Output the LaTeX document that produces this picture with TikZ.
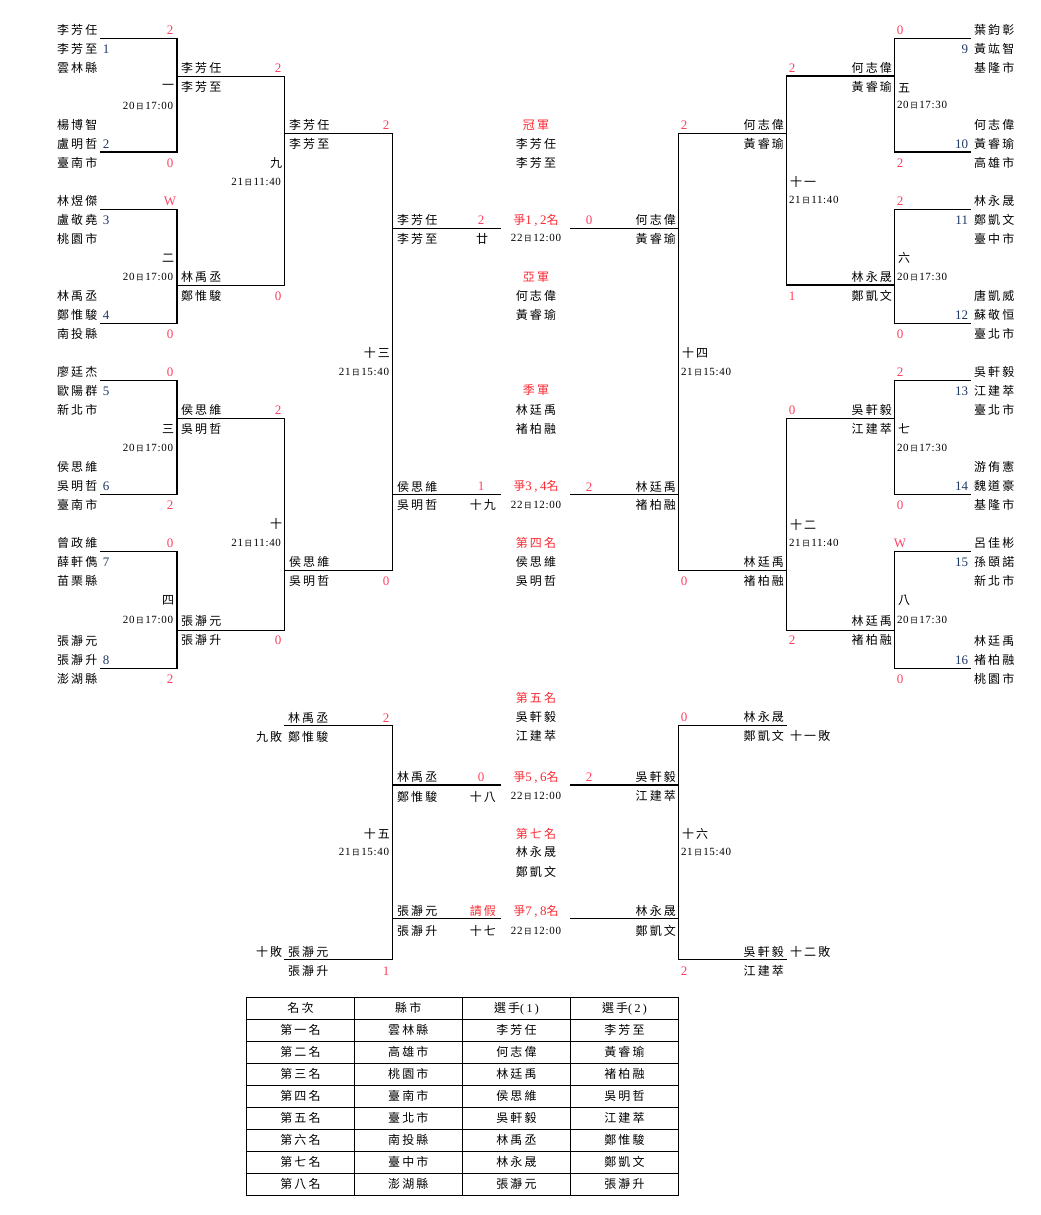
\documentclass[tikz,border=0pt]{standalone}
\usepackage{fontspec}
\setmainfont{Liberation Serif}
\newfontfamily\cjs[LetterSpace=18]{Noto Sans CJK TC}
\newfontfamily\cjn{Noto Sans CJK TC}
\newfontfamily\srd[LetterSpace=6]{Liberation Serif}
\newfontfamily\srs[LetterSpace=20]{Liberation Serif}
\definecolor{scr}{RGB}{255,64,96}
\definecolor{ttl}{RGB}{250,40,50}
\definecolor{sdb}{RGB}{31,56,100}
\newcounter{tn}
\newcommand\TX[4]{\stepcounter{tn}\node[#1] (t\arabic{tn}) at (#2,#3) {#4};}
\newcommand\DT[2]{{\srd #1}{\cjn\fontsize{8}{8}\selectfont\,日\,}{\srd #2}}
\newcommand\ZM[1]{爭{\srs\fontsize{13}{13}\selectfont #1}名}
\newcommand\BK[5]{\coordinate (#1a) at (#2,#4); \coordinate (#1b) at (#3,#4); \coordinate (#1c) at (#3,#5); \coordinate (#1d) at (#2,#5); \draw[bl] (#1a) -- (#1b) -- (#1c) -- (#1d);}
\newcommand\HL[4]{\coordinate (#1a) at (#2,#4); \coordinate (#1b) at (#3,#4); \draw[bl] (#1a) -- (#1b);}
\begin{document}
\begin{tikzpicture}[x=1pt,y=-1pt,
  bl/.style={line width=1.25pt,black},
  tl/.style={line width=0.9pt,black},
  base/.style={inner sep=0pt,outer sep=0pt},
  nw/.style={base,anchor=west,font=\cjs\fontsize{12}{14}\selectfont},
  ne/.style={base,anchor=east,font=\cjs\fontsize{12}{14}\selectfont},
  nc/.style={base,anchor=center,font=\cjs\fontsize{12}{14}\selectfont},
  tt/.style={nc,text=ttl},
  tte/.style={ne,text=ttl},
  sc/.style={base,anchor=center,text=scr,font=\rmfamily\fontsize{13}{13}\selectfont},
  sd/.style={base,anchor=center,text=sdb,font=\rmfamily\fontsize{13}{13}\selectfont},
  sde/.style={sd,anchor=east},
  dte/.style={base,anchor=east,font=\fontsize{11}{11}\selectfont},
  dtw/.style={base,anchor=west,font=\fontsize{11}{11}\selectfont},
  dtc/.style={base,anchor=center,font=\fontsize{11}{11}\selectfont}]
\useasboundingbox (0,0) rectangle (1041,1215);

% ---------------- bracket lines ----------------
\BK{m1}{100}{177}{38.3}{152}
\BK{m2}{100}{177}{209.3}{323.3}
\BK{m3}{100}{177}{380.3}{494.3}
\BK{m4}{100}{177}{551.5}{668.3}
\BK{m9}{177}{284.3}{76.2}{285.2}
\BK{m10}{177}{284.3}{418.3}{630.3}
\BK{m13}{284.3}{392.3}{133.3}{570.7}
\HL{s1}{392.3}{501}{228.3}
\HL{s2}{392.3}{501}{494.3}
\HL{s3}{570}{678.3}{228.3}
\HL{s4}{570}{678.3}{494.3}
\BK{m14}{786.7}{678.3}{133.3}{570.7}
\BK{m11}{894.3}{786.7}{76}{285}
\BK{m12}{894.3}{786.7}{418.3}{630.3}
\BK{m5}{970.7}{894.3}{38.3}{152}
\BK{m6}{970.7}{894.3}{209.3}{323.3}
\BK{m7}{970.7}{894.3}{380.3}{494.3}
\BK{m8}{970.7}{894.3}{551.7}{668.3}
\BK{m15}{284.3}{392.3}{725.3}{959.3}
\HL{s5}{392.3}{500.7}{785}
\HL{s6}{392.3}{500.7}{918.3}
\HL{s7}{570}{678.3}{785}
\HL{s8}{570}{678.3}{918.3}
\BK{m16}{786.7}{678.3}{725.3}{959.3}

% ---------------- left first round ----------------
\TX{nw}{57}{30}{李芳任}
\TX{nw}{57}{49}{李芳至}
\TX{nw}{57}{68}{雲林縣}
\TX{nw}{57}{125}{楊博智}
\TX{nw}{57}{144}{盧明哲}
\TX{nw}{57}{163}{臺南市}
\TX{nw}{57}{201}{林煜傑}
\TX{nw}{57}{220}{盧敬堯}
\TX{nw}{57}{239}{桃園市}
\TX{nw}{57}{296}{林禹丞}
\TX{nw}{57}{315}{鄭惟駿}
\TX{nw}{57}{334}{南投縣}
\TX{nw}{57}{372}{廖廷杰}
\TX{nw}{57}{391}{歐陽群}
\TX{nw}{57}{410}{新北市}
\TX{nw}{57}{467}{侯思維}
\TX{nw}{57}{486}{吳明哲}
\TX{nw}{57}{505}{臺南市}
\TX{nw}{57}{543}{曾政維}
\TX{nw}{57}{562}{薛軒儁}
\TX{nw}{57}{581}{苗栗縣}
\TX{nw}{57}{641}{張瀞元}
\TX{nw}{57}{660}{張瀞升}
\TX{nw}{57}{679}{澎湖縣}
\TX{sd}{106}{49}{1}
\TX{sd}{106}{144}{2}
\TX{sd}{106}{220}{3}
\TX{sd}{106}{315}{4}
\TX{sd}{106}{391}{5}
\TX{sd}{106}{486}{6}
\TX{sd}{106}{562}{7}
\TX{sd}{106}{660}{8}
\TX{sc}{170}{30}{2}
\TX{sc}{170}{163}{0}
\TX{sc}{170}{201}{W}
\TX{sc}{170}{334}{0}
\TX{sc}{170}{372}{0}
\TX{sc}{170}{505}{2}
\TX{sc}{170}{543}{0}
\TX{sc}{170}{679}{2}
\TX{ne}{174}{87}{一}
\TX{dte}{173}{106}{\DT{20}{17:00}}
\TX{ne}{174}{258}{二}
\TX{dte}{173}{277}{\DT{20}{17:00}}
\TX{ne}{174}{429}{三}
\TX{dte}{173}{448}{\DT{20}{17:00}}
\TX{ne}{174}{600}{四}
\TX{dte}{173}{620}{\DT{20}{17:00}}

% ---------------- left round 2 ----------------
\TX{nw}{181}{68}{李芳任}
\TX{nw}{181}{87}{李芳至}
\TX{nw}{181}{277}{林禹丞}
\TX{nw}{181}{296}{鄭惟駿}
\TX{nw}{181}{410}{侯思維}
\TX{nw}{181}{429}{吳明哲}
\TX{nw}{181}{620.7}{張瀞元}
\TX{nw}{181}{640}{張瀞升}
\TX{sc}{278}{68}{2}
\TX{sc}{278}{296}{0}
\TX{sc}{278}{410}{2}
\TX{sc}{278}{640}{0}
\TX{ne}{282}{163}{九}
\TX{dte}{281}{182}{\DT{21}{11:40}}
\TX{ne}{282}{524}{十}
\TX{dte}{281}{543}{\DT{21}{11:40}}

% ---------------- left round 3 ----------------
\TX{nw}{289}{125}{李芳任}
\TX{nw}{289}{144}{李芳至}
\TX{nw}{289}{562}{侯思維}
\TX{nw}{289}{581}{吳明哲}
\TX{sc}{386}{125}{2}
\TX{sc}{386}{581}{0}
\TX{ne}{390}{353}{十三}
\TX{dte}{389}{372}{\DT{21}{15:40}}

% ---------------- left semis ----------------
\TX{nw}{397}{220}{李芳任}
\TX{nw}{397}{239}{李芳至}
\TX{nw}{397}{486.7}{侯思維}
\TX{nw}{397}{505}{吳明哲}
\TX{sc}{481}{220}{2}
\TX{sc}{481}{486.7}{1}
\TX{nc}{482}{239}{廿}
\TX{ne}{496}{505}{十九}

% ---------------- centre ----------------
\TX{tt}{536}{125}{冠軍}
\TX{nc}{536}{144}{李芳任}
\TX{nc}{536}{163}{李芳至}
\TX{tt}{536}{220}{\ZM{1,2}}
\TX{dtc}{536}{238}{\DT{22}{12:00}}
\TX{tt}{536}{277}{亞軍}
\TX{nc}{536}{296}{何志偉}
\TX{nc}{536}{315}{黃睿瑜}
\TX{tt}{536}{390}{季軍}
\TX{nc}{536}{410}{林廷禹}
\TX{nc}{536}{429}{褚柏融}
\TX{tt}{536}{486.7}{\ZM{3,4}}
\TX{dtc}{536}{505}{\DT{22}{12:00}}
\TX{tt}{536}{543}{第四名}
\TX{nc}{536}{562}{侯思維}
\TX{nc}{536}{581}{吳明哲}
\TX{tt}{536}{698}{第五名}
\TX{nc}{536}{717}{吳軒毅}
\TX{nc}{536}{736}{江建萃}
\TX{tt}{536}{777}{\ZM{5,6}}
\TX{dtc}{536}{796}{\DT{22}{12:00}}
\TX{tt}{536}{834}{第七名}
\TX{nc}{536}{852}{林永晟}
\TX{nc}{536}{872}{鄭凱文}
\TX{tt}{536}{911}{\ZM{7,8}}
\TX{dtc}{536}{931}{\DT{22}{12:00}}

% ---------------- right semis ----------------
\TX{ne}{676}{220}{何志偉}
\TX{ne}{676}{239}{黃睿瑜}
\TX{ne}{676}{486.7}{林廷禹}
\TX{ne}{676}{505}{褚柏融}
\TX{sc}{589}{220}{0}
\TX{sc}{589}{486.7}{2}

% ---------------- right round 3 ----------------
\TX{ne}{784}{125}{何志偉}
\TX{ne}{784}{144}{黃睿瑜}
\TX{ne}{784}{562}{林廷禹}
\TX{ne}{784}{581}{褚柏融}
\TX{sc}{684}{125}{2}
\TX{sc}{684}{581}{0}
\TX{nw}{682}{353}{十四}
\TX{dtw}{681}{372}{\DT{21}{15:40}}

% ---------------- right round 2 ----------------
\TX{ne}{892}{68}{何志偉}
\TX{ne}{892}{87}{黃睿瑜}
\TX{ne}{892}{277}{林永晟}
\TX{ne}{892}{296}{鄭凱文}
\TX{ne}{892}{410}{吳軒毅}
\TX{ne}{892}{429}{江建萃}
\TX{ne}{892}{620.7}{林廷禹}
\TX{ne}{892}{640}{褚柏融}
\TX{sc}{792}{68}{2}
\TX{sc}{792}{296}{1}
\TX{sc}{792}{410}{0}
\TX{sc}{792}{640}{2}
\TX{nw}{790}{182}{十一}
\TX{dtw}{789}{200}{\DT{21}{11:40}}
\TX{nw}{790}{525}{十二}
\TX{dtw}{789}{543}{\DT{21}{11:40}}

% ---------------- right first round ----------------
\TX{nw}{898}{87.7}{五}
\TX{dtw}{897}{105}{\DT{20}{17:30}}
\TX{nw}{898}{258}{六}
\TX{dtw}{897}{277}{\DT{20}{17:30}}
\TX{nw}{898}{429}{七}
\TX{dtw}{897}{448}{\DT{20}{17:30}}
\TX{nw}{898}{600}{八}
\TX{dtw}{897}{620}{\DT{20}{17:30}}
\TX{sc}{900}{30}{0}
\TX{sc}{900}{163}{2}
\TX{sc}{900}{201}{2}
\TX{sc}{900}{334}{0}
\TX{sc}{900}{372}{2}
\TX{sc}{900}{505}{0}
\TX{sc}{900}{543}{W}
\TX{sc}{900}{679}{0}
\TX{sde}{968}{49}{9}
\TX{sde}{968}{144}{10}
\TX{sde}{968}{220}{11}
\TX{sde}{968}{315}{12}
\TX{sde}{968}{391}{13}
\TX{sde}{968}{486}{14}
\TX{sde}{968}{562}{15}
\TX{sde}{968}{660}{16}
\TX{nw}{974}{30}{葉鈞彰}
\TX{nw}{974}{49}{黃竑智}
\TX{nw}{974}{68}{基隆市}
\TX{nw}{974}{125}{何志偉}
\TX{nw}{974}{144}{黃睿瑜}
\TX{nw}{974}{163}{高雄市}
\TX{nw}{974}{201}{林永晟}
\TX{nw}{974}{220}{鄭凱文}
\TX{nw}{974}{239}{臺中市}
\TX{nw}{974}{296}{唐凱威}
\TX{nw}{974}{315}{蘇敬恒}
\TX{nw}{974}{334}{臺北市}
\TX{nw}{974}{372}{吳軒毅}
\TX{nw}{974}{391}{江建萃}
\TX{nw}{974}{410}{臺北市}
\TX{nw}{974}{467}{游侑憲}
\TX{nw}{974}{486}{魏道豪}
\TX{nw}{974}{505}{基隆市}
\TX{nw}{974}{543}{呂佳彬}
\TX{nw}{974}{562}{孫頤諾}
\TX{nw}{974}{581}{新北市}
\TX{nw}{974}{641}{林廷禹}
\TX{nw}{974}{660}{褚柏融}
\TX{nw}{974}{679}{桃園市}

% ---------------- losers bracket left ----------------
\TX{nw}{288}{717.7}{林禹丞}
\TX{sc}{386}{717.7}{2}
\TX{nw}{256}{736.7}{九敗}
\TX{nw}{288}{736.7}{鄭惟駿}
\TX{nw}{397}{777}{林禹丞}
\TX{sc}{481}{777}{0}
\TX{nw}{397}{796.7}{鄭惟駿}
\TX{ne}{496}{796.7}{十八}
\TX{ne}{390}{834}{十五}
\TX{dte}{389}{852}{\DT{21}{15:40}}
\TX{nw}{397}{911}{張瀞元}
\TX{tte}{496}{911}{請假}
\TX{nw}{397}{931}{張瀞升}
\TX{ne}{496}{931}{十七}
\TX{nw}{256}{951.7}{十敗}
\TX{nw}{288}{951.7}{張瀞元}
\TX{nw}{288}{970.7}{張瀞升}
\TX{sc}{386}{970.7}{1}

% ---------------- losers bracket right ----------------
\TX{sc}{684}{717}{0}
\TX{ne}{784}{717}{林永晟}
\TX{ne}{784}{736}{鄭凱文}
\TX{nw}{790}{736}{十一敗}
\TX{sc}{589}{777}{2}
\TX{ne}{676}{777}{吳軒毅}
\TX{ne}{676}{796}{江建萃}
\TX{nw}{682}{834}{十六}
\TX{dtw}{681}{852}{\DT{21}{15:40}}
\TX{ne}{676}{911}{林永晟}
\TX{ne}{676}{931}{鄭凱文}
\TX{ne}{784}{951.7}{吳軒毅}
\TX{nw}{790}{951.7}{十二敗}
\TX{sc}{684}{970.7}{2}
\TX{ne}{784}{970.7}{江建萃}

% ---------------- table ----------------
\draw[tl] (246.7,997.3) rectangle (678.3,1195.3);
\foreach \xx in {354.3,462.3,570.7} \draw[tl] (\xx,997.3) -- (\xx,1195.3);
\foreach \k in {1,...,8} \draw[tl] (246.7,997.3+22*\k) -- (678.3,997.3+22*\k);
\newcommand\RW[5]{%
  \TX{nc}{300.5}{1008.3+22*#1}{#2}
  \TX{nc}{408.3}{1008.3+22*#1}{#3}
  \TX{nc}{516.5}{1008.3+22*#1}{#4}
  \TX{nc}{624.5}{1008.3+22*#1}{#5}}
\RW{0}{名次}{縣市}{選手{\srs(1)}}{選手{\srs(2)}}
\RW{1}{第一名}{雲林縣}{李芳任}{李芳至}
\RW{2}{第二名}{高雄市}{何志偉}{黃睿瑜}
\RW{3}{第三名}{桃園市}{林廷禹}{褚柏融}
\RW{4}{第四名}{臺南市}{侯思維}{吳明哲}
\RW{5}{第五名}{臺北市}{吳軒毅}{江建萃}
\RW{6}{第六名}{南投縣}{林禹丞}{鄭惟駿}
\RW{7}{第七名}{臺中市}{林永晟}{鄭凱文}
\RW{8}{第八名}{澎湖縣}{張瀞元}{張瀞升}
\end{tikzpicture}
\end{document}
